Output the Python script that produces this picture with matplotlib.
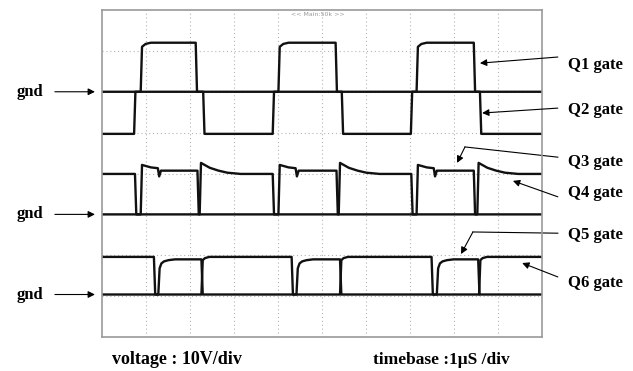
import matplotlib
matplotlib.use("Agg")
import matplotlib.pyplot as plt

# scope screen: 10 div x 8 div, 1 div = 1 uS horizontally
# edge times (uS) of each gate signal
q1_edges = [0.88, 2.13, 4.01, 5.31, 7.15, 8.45]
q2_edges = [0.73, 2.30, 3.88, 5.45, 7.02, 8.59]
q3_edges = [0.88, 2.17, 4.01, 5.33, 7.15, 8.45]
q4_edges = [0.75, 2.22, 3.88, 5.38, 7.03, 8.53]
q5_edges = [1.28, 2.26, 4.42, 5.41, 7.61, 8.55]
q6_edges = [1.18, 2.26, 4.31, 5.41, 7.49, 8.57]

# levels (div) : low, high
q1_levels = [6.0, 7.2]
q2_levels = [4.97, 6.0]
q3_levels = [3.0, 4.07]
q4_levels = [3.0, 3.99]
q5_levels = [1.04, 1.9]
q6_levels = [1.04, 1.96]

# shape of the top after each rising edge: (time after edge, offset from high)
q1_top_t = [0, 0.08, 0.2]
q1_top_v = [-0.1, -0.03, 0]
q3_top_t = [0, 0.2, 0.36, 0.39, 0.43]
q3_top_v = [0.14, 0.08, 0.06, -0.14, 0.0]
q4_top_t = [0, 0.05, 0.2, 0.4, 0.6, 0.9]
q4_top_v = [0.27, 0.24, 0.15, 0.08, 0.03, 0.0]
q5_top_t = [0, 0.04, 0.1, 0.2, 0.35]
q5_top_v = [-0.22, -0.1, -0.05, -0.02, 0]
q6_top_t = [0, 0.05, 0.15]
q6_top_v = [-0.08, -0.03, 0]

labels = ["Q1 gate", "Q2 gate", "Q3 gate", "Q4 gate", "Q5 gate", "Q6 gate"]
gnd_levels = [6.0, 3.0, 1.04]


def trace(edges, levels, start_high=False, top_t=None, top_v=None):
    lo, hi = levels
    high = start_high
    t, v = [0.0], [hi if high else lo]
    for e in edges:
        t.append(e)
        v.append(hi if high else lo)
        high = not high
        if high and top_t is not None:
            for dt, dv in zip(top_t, top_v):
                t.append(e + 0.03 + dt)
                v.append(hi + dv)
        else:
            t.append(e + 0.03)
            v.append(hi if high else lo)
    t.append(10.0)
    v.append(hi if high else lo)
    return t, v


fig = plt.figure(figsize=(6.33, 3.71), dpi=100)
ax = fig.add_axes([0.1611, 0.0916, 0.6951, 0.8814])
ax.set_xlim(0, 10)
ax.set_ylim(0, 8)
ax.set_xticks(range(1, 10))
ax.set_yticks(range(1, 8))
ax.tick_params(length=0, labelbottom=False, labelleft=False)
ax.grid(True, ls=(0, (1, 2.5)), color="#b4b4b4", lw=0.8)
for s in ax.spines.values():
    s.set_color("#9a9a9a")
    s.set_linewidth(1.2)

ax.text(4.9, 7.88, "<< Main:50k >>", fontsize=4.5, color="#999999",
        ha="center", va="center")

traces = [
    trace(q1_edges, q1_levels, False, q1_top_t, q1_top_v),
    trace(q2_edges, q2_levels, False),
    trace(q3_edges, q3_levels, False, q3_top_t, q3_top_v),
    trace(q4_edges, q4_levels, True, q4_top_t, q4_top_v),
    trace(q5_edges, q5_levels, False, q5_top_t, q5_top_v),
    trace(q6_edges, q6_levels, True, q6_top_t, q6_top_v),
]
for t, v in traces:
    ax.plot(t, v, color="#111111", lw=1.7)

font = dict(family=["Liberation Serif", "DejaVu Serif"], weight="bold")
arrow = dict(arrowstyle="-|>", color="black", lw=0.8, mutation_scale=10,
             shrinkA=0, shrinkB=0)

# gnd markers on the left
for g in gnd_levels:
    ax.text(-1.95, g, "gnd", fontsize=12, ha="left", va="center", **font)
    ax.annotate("", xy=(-0.16, g), xytext=(-1.07, g), arrowprops=arrow,
                annotation_clip=False)

# gate labels on the right; Q3 and Q5 leaders have a bend
label_y = [6.65, 5.55, 4.28, 3.52, 2.5, 1.32]
starts = [(10.36, 6.85), (10.36, 5.6), (10.36, 4.4), (10.36, 3.43),
          (10.36, 2.54), (10.36, 1.47)]
bends = [None, None, (8.25, 4.65), None, (8.43, 2.57), None]
heads = [(8.59, 6.7), (8.64, 5.48), (8.07, 4.26), (9.34, 3.82),
         (8.16, 2.03), (9.55, 1.81)]
for lab, y, start, bend, head in zip(labels, label_y, starts, bends, heads):
    ax.text(10.59, y, lab, fontsize=12, ha="left", va="center", **font)
    tail = start
    if bend is not None:
        ax.plot([start[0], bend[0]], [start[1], bend[1]],
                color="black", lw=0.8, clip_on=False)
        tail = bend
    ax.annotate("", xy=head, xytext=tail, arrowprops=arrow,
                annotation_clip=False)

ax.text(0.22, -0.56, "voltage : 10V/div", fontsize=13, ha="left",
        va="center", **font)
ax.text(6.16, -0.56, "timebase :1\u03bcS /div", fontsize=12.5, ha="left",
        va="center", **font)

fig.savefig("out.png", dpi=100)
